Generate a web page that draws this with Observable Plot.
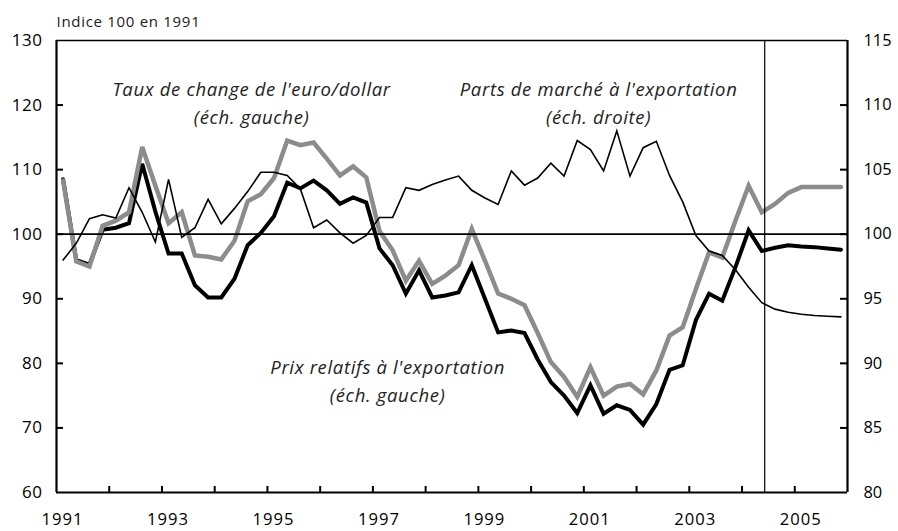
<!DOCTYPE html>
<html><head><meta charset="utf-8">
<script src="https://cdn.jsdelivr.net/npm/d3@7"></script>
<script src="https://cdn.jsdelivr.net/npm/@observablehq/plot@0.6"></script>
<style>
body{margin:0;background:#fff}
#chart{width:898px;height:531px}
</style>
</head><body><div id="chart"></div>
<script>
// Quarterly data, 1991T1 .. 2005T4
const startYear = 1991;
const tauxChange = [108.3,95.8,95.0,101.3,102.1,103.4,113.5,107.5,101.7,103.4,96.7,96.5,96.1,99.0,105.1,106.2,
  108.7,114.5,113.8,114.2,111.7,109.1,110.5,108.8,100.5,97.5,92.8,95.9,92.3,93.6,95.2,100.8,
  95.9,90.8,90.0,89.0,84.7,80.2,77.9,74.8,79.4,75.0,76.4,76.8,75.2,78.9,84.3,85.6,
  91.5,97.2,96.4,102.1,107.5,103.4,104.7,106.4,107.3,107.3,107.3,107.3];
const prixRelatifs = [108.5,96.0,95.3,100.7,101.0,101.7,110.9,103.5,97.0,97.0,92.1,90.2,90.2,93.1,98.3,100.2,
  102.8,108.0,107.1,108.3,106.8,104.7,105.7,104.9,97.8,95.2,90.8,94.4,90.2,90.5,91.0,95.2,
  90.0,84.8,85.1,84.7,80.6,77.1,75.0,72.3,76.6,72.2,73.5,72.8,70.5,73.7,79.0,79.7,
  86.7,90.8,89.7,94.9,100.6,97.4,97.9,98.3,98.1,98.0,97.8,97.6];
// right-hand scale
const partsMarche = [98.0,99.3,101.2,101.5,101.25,103.6,101.7,99.4,104.25,99.75,100.5,102.7,100.8,102.0,103.3,104.8,
  104.8,104.55,103.5,100.5,101.1,100.1,99.3,99.9,101.3,101.3,103.6,103.4,103.85,104.2,104.5,103.4,
  102.8,102.3,104.9,103.8,104.35,105.5,104.5,107.25,106.55,104.9,108.0,104.5,106.7,107.2,104.55,102.5,
  99.9,98.7,98.35,97.25,95.9,94.7,94.2,93.96,93.8,93.7,93.65,93.6];

const leftTicks = [60,70,80,90,100,110,120,130];
const rightTicks = [80,85,90,95,100,105,110,115];
const yearTicks = [1991,1992,1993,1994,1995,1996,1997,1998,1999,2000,2001,2002,2003,2004,2005,2006];
const yearLabels = [1991,1993,1995,1997,1999,2001,2003,2005];
const projectionStart = 2004.43;
const annotations = [
  {text:"Taux de change de l'euro/dollar\n(éch. gauche)", x:1994.70, y:120.6},
  {text:"Parts de marché à l'exportation\n(éch. droite)", x:2001.28, y:120.6},
  {text:"Prix relatifs à l'exportation\n(éch. gauche)", x:1997.28, y:77.6}
];
const unitLabel = "Indice 100 en 1991";

// right scale value -> left scale value (100 <-> 100, 80 <-> 60, 115 <-> 130)
const rightToLeft = r => leftTicks[0] + (r - rightTicks[0]) * (leftTicks[1]-leftTicks[0])/(rightTicks[1]-rightTicks[0]);

const quarter = i => startYear + 0.125 + 0.25 * i;
const rows = tauxChange.map((v, i) => ({
  t: quarter(i), taux: v, prix: prixRelatifs[i], parts: rightToLeft(partsMarche[i])
}));

const font = "'Open Sans', Lato, sans-serif";
const W = 898, H = 531, mT = 40, mB = 39, mL = 56, mR = 51;
const frameW = W - mL - mR, frameH = H - mT - mB;

const chart = Plot.plot({
  width: W, height: H,
  marginTop: mT, marginBottom: mB, marginLeft: mL, marginRight: mR,
  style: {fontFamily: font, fontSize: "16px", color: "#000", background: "#fff"},
  x: {domain: [1991, 2006], axis: null},
  y: {domain: [60, 130], axis: null},
  marks: [
    // lines
    Plot.line(rows, {x: "t", y: "prix", stroke: "#000", strokeWidth: 4, strokeLinejoin: "miter", strokeMiterlimit: 3}),
    Plot.line(rows, {x: "t", y: "taux", stroke: "#8c8c8c", strokeWidth: 4.5, strokeLinejoin: "miter", strokeMiterlimit: 3}),
    Plot.line(rows, {x: "t", y: "parts", stroke: "#000", strokeWidth: 1.6, strokeLinejoin: "miter", strokeMiterlimit: 4}),
    // reference lines
    Plot.ruleY([100], {stroke: "#000", strokeWidth: 1.8}),
    Plot.ruleX([projectionStart], {stroke: "#000", strokeWidth: 1.2}),
    // frame
    Plot.ruleY([130], {stroke: "#000", strokeWidth: 1.5}),
    Plot.ruleY([60], {stroke: "#000", strokeWidth: 2.2}),
    Plot.ruleX([1991], {stroke: "#000", strokeWidth: 2.2}),
    Plot.ruleX([2006], {stroke: "#000", strokeWidth: 2.2}),
    // inward ticks
    Plot.tickY(leftTicks.slice(1, -1), {y: d => d, insetRight: frameW - 7, stroke: "#000", strokeWidth: 2}),
    Plot.tickY(leftTicks.slice(1, -1), {y: d => d, insetLeft: frameW - 7, stroke: "#000", strokeWidth: 2}),
    Plot.tickX(yearTicks.slice(1, -1), {x: d => d, insetTop: frameH - 6, stroke: "#000", strokeWidth: 2}),
    // tick labels
    Plot.axisY(leftTicks, {anchor: "left", tickSize: 0, tickPadding: 14, fontSize: 17, tickFormat: d => String(d)}),
    Plot.axisY(leftTicks, {anchor: "right", tickSize: 0, tickPadding: 16, fontSize: 16.4,
      tickFormat: d => String(rightTicks[leftTicks.indexOf(d)])}),
    Plot.axisX(yearLabels, {anchor: "bottom", tickSize: 0, tickPadding: 21, dx: 6, fontSize: 16.6, tickFormat: d => String(d)}),
    // annotations
    Plot.text(annotations, {x: "x", y: "y", text: "text", fontSize: 18.5, fontStyle: "italic",
      lineHeight: 1.53, textAnchor: "middle", fill: "#222"}),
    Plot.text([unitLabel], {frameAnchor: "top-left", dx: 0, dy: -24, text: d => d, fontSize: 15, textAnchor: "start", fill: "#222"})
  ]
});
// letter spacing (Gill-Sans-like wide setting of the original)
const spacing = [['g[font-style="italic"]', 0.65], ['g[font-size="15"]', 0.7], ['g[font-size="17"]', 0.5], ['g[font-size="16.6"]', 1]];
for (const [sel, ls] of spacing) chart.querySelectorAll(sel).forEach(g => g.setAttribute("letter-spacing", ls));
document.getElementById("chart").appendChild(chart);
</script>
</body></html>
